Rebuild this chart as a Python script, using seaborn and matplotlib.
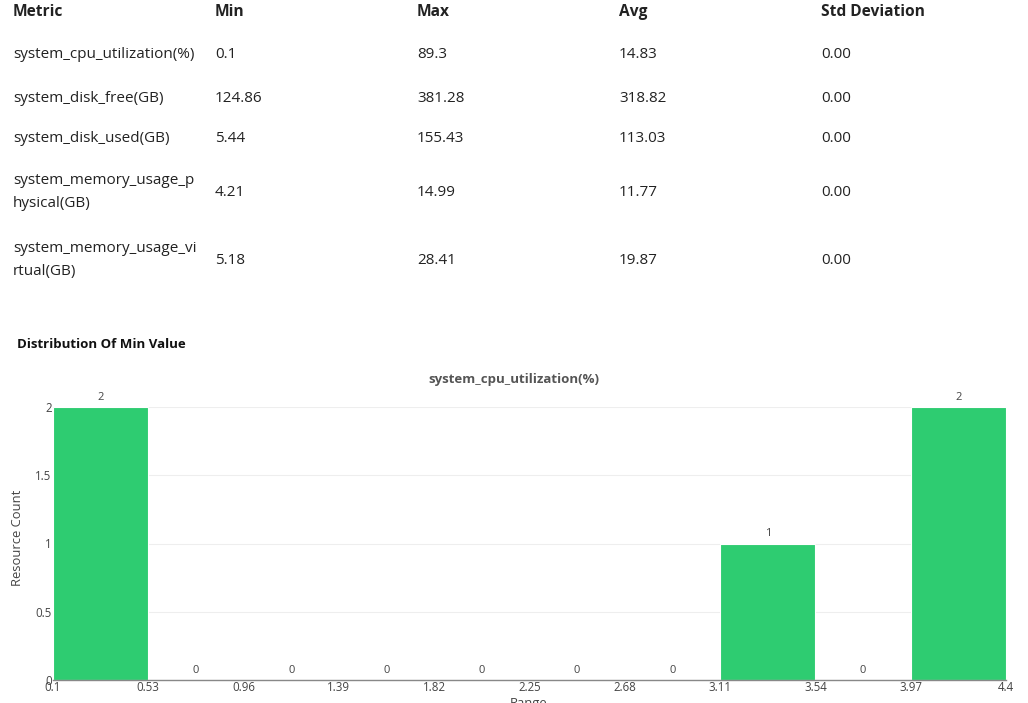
import matplotlib
matplotlib.use("Agg")
import matplotlib.pyplot as plt
import seaborn as sns
import numpy as np

# ---- data ----
table_headers = ["Metric", "Min", "Max", "Avg", "Std Deviation"]
metrics = ["system_cpu_utilization(%)", "system_disk_free(GB)", "system_disk_used(GB)",
           "system_memory_usage_p\nhysical(GB)", "system_memory_usage_vi\nrtual(GB)"]
mins = ["0.1", "124.86", "5.44", "4.21", "5.18"]
maxs = ["89.3", "381.28", "155.43", "14.99", "28.41"]
avgs = ["14.83", "318.82", "113.03", "11.77", "19.87"]
stds = ["0.00", "0.00", "0.00", "0.00", "0.00"]

bin_edges = [0.1, 0.53, 0.96, 1.39, 1.82, 2.25, 2.68, 3.11, 3.54, 3.97, 4.4]
bin_counts = [2, 0, 0, 0, 0, 0, 0, 1, 0, 2]
y_ticks = [0, 0.5, 1, 1.5, 2]
y_tick_labels = ["0", "0.5", "1", "1.5", "2"]

sns.set_theme(style="white")
plt.rcParams['font.family'] = ['Open Sans', 'DejaVu Sans']

W, H = 1028, 703
fig = plt.figure(figsize=(W / 100, H / 100), dpi=100)

def fx(px):
    return px / W

def fy(py):
    return 1 - py / H

# ---- table ----
col_x = [13, 215, 417, 619, 821]
header_y = 12
row_y = [55, 98, 139, 192, 260]
for x, h in zip(col_x, table_headers):
    fig.text(fx(x), fy(header_y), h, fontsize=11.2, fontweight='bold', color='#222222',
             ha='left', va='center')
cols = [metrics, mins, maxs, avgs, stds]
for ci, col in enumerate(cols):
    for ri, val in enumerate(col):
        fig.text(fx(col_x[ci]), fy(row_y[ri]), val, fontsize=11, color='#222222',
                 ha='left', va='center', linespacing=1.75)

# ---- section title ----
fig.text(fx(17), fy(344), "Distribution Of Min Value", fontsize=9.5, fontweight='bold',
         color='#111111', ha='left', va='center')
fig.text(0.5, fy(379), "system_cpu_utilization(%)", fontsize=9.5, fontweight='bold',
         color='#555555', ha='center', va='center')

# ---- histogram ----
left, right, top, bottom = 53, 1006, 407, 680
ax = fig.add_axes([fx(left), fy(bottom), fx(right - left), (bottom - top) / H])
centers = [(a + b) / 2 for a, b in zip(bin_edges[:-1], bin_edges[1:])]
sns.histplot(x=centers, weights=bin_counts, bins=bin_edges, ax=ax, color='#2ecc71',
             alpha=1.0, edgecolor='white', linewidth=0.8)
ax.set_xlim(bin_edges[0], bin_edges[-1])
ax.set_ylim(0, 2)
ax.set_xticks(bin_edges)
ax.set_xticklabels([f"{v:g}" for v in bin_edges])
ax.set_yticks(y_ticks)
ax.set_yticklabels(y_tick_labels)
ax.tick_params(axis='both', labelsize=8.3, colors='#444444', length=0, pad=1)
for lbl in ax.get_yticklabels():
    lbl.set_color('#444444')
ax.grid(axis='y', color='#eeeeee', linewidth=0.8)
ax.set_axisbelow(True)
for s in ['top', 'right', 'left']:
    ax.spines[s].set_visible(False)
ax.spines['bottom'].set_color('#888888')
ax.spines['bottom'].set_linewidth(1)
ax.set_xlabel("")
ax.set_ylabel("")
ax.bar_label(ax.containers[0], labels=[str(c) for c in bin_counts], padding=3,
             fontsize=8, color='#444444')

fig.text(fx(18), fy(538), "Resource Count", rotation=90, fontsize=9.4, color='#444444',
         ha='center', va='center')
fig.text(fx(529), fy(697), "Range", fontsize=9.4, color='#444444', ha='center', va='top')

fig.savefig("out.png", dpi=100)
